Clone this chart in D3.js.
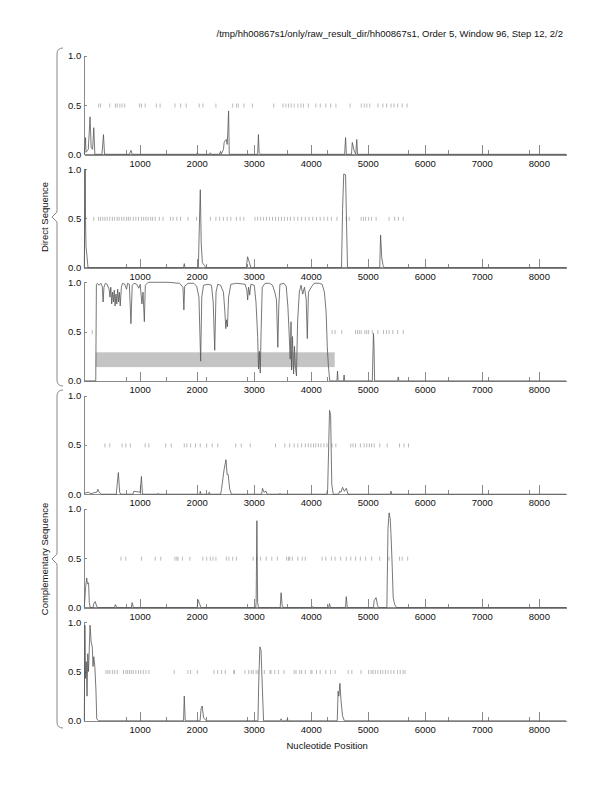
<!DOCTYPE html>
<html lang="en">
<head>
<meta charset="utf-8">
<title>Coding potential</title>
<script src="https://d3js.org/d3.v7.min.js"></script>
<style>
  body { margin: 0; background: #fff; }
  text { font-family: "Liberation Sans", Arial, Helvetica, sans-serif; fill: #111; }
  .axis path, .axis line { stroke: #8a8a8a; fill: none; shape-rendering: crispEdges; }
  .axis text { font-size: 9.5px; }
</style>
</head>
<body>
<script>
// --- data ---
var titleText = "/tmp/hh00867s1/only/raw_result_dir/hh00867s1, Order 5, Window 96, Step 12, 2/2";
var xDomain = [30, 8476];
var majorTicks = [1000, 2000, 3000, 4000, 5000, 6000, 7000, 8000];
var minorTicks = [765, 1472, 2178, 2885, 3592, 4298, 5005, 5712, 6418, 7125, 7832];
var yTicks = [0, 0.5, 1.0];
var groupLabels = ["Direct Sequence", "Complementary Sequence"];

// panel 3 shaded region [start, end, low, high]
var region3 = [230, 4420, 0.14, 0.29];

var curve1 = [[30,0],[52,0.17],[60,0.02],[100,0.05],[131,0.38],[150,0.07],[175,0.05],[196,0.27],[215,0],[340,0],[366,0.20],[385,0],
  [820,0],[849,0.04],[870,0],[2000,0],[2012,0.015],[2030,0],[2230,0],[2240,0.015],[2255,0],[2400,0],[2417,0.03],[2430,0],
  [2470,0.05],[2482,0.12],[2500,0.14],[2521,0.15],[2535,0.1],[2547,0.24],[2560,0.44],[2572,0],[3070,0],[3083,0.20],[3095,0.02],[3120,0],
  [4595,0],[4611,0.17],[4625,0],[4715,0],[4729,0.12],[4760,0.04],[4790,0],[4807,0.15],[4822,0],[8476,0]];

var curve2 = [[30,0],[45,1.0],[52,0.48],[60,0.21],[75,0.13],[95,0],[1770,0],[1783,0.04],[1795,0],[2030,0],[2044,0.35],[2064,0.79],
  [2080,0.25],[2100,0.05],[2140,0.02],[2160,0],[2870,0],[2893,0.11],[2925,0.05],[2950,0],[4540,0],[4559,0.6],[4579,0.95],[4611,0.94],
  [4630,0.4],[4645,0],[5210,0],[5225,0.33],[5245,0.1],[5270,0.02],[5290,0],[8476,0]];

var curve3 = [[30,0],[231,0],[242,0.98],[260,0.99],[290,0.97],[320,0.99],[345,0.96],[360,0.80],[375,0.95],[400,0.99],[430,0.98],
  [465,0.93],[480,0.85],[495,0.95],[510,0.78],[525,0.9],[540,0.8],[555,0.92],[570,0.76],[585,0.88],[600,0.78],[615,0.93],[630,0.8],
  [645,0.9],[660,0.76],[680,0.95],[700,0.99],[740,0.98],[770,0.93],[790,0.99],[820,0.98],[848,0.58],[870,0.97],[900,0.99],[950,0.98],
  [985,0.94],[1010,0.98],[1040,0.78],[1060,0.9],[1083,0.60],[1100,0.97],[1150,1.0],[1300,1.0],[1500,1.0],[1700,0.99],[1760,0.95],
  [1776,0.72],[1790,0.96],[1850,0.99],[1950,0.99],[2000,0.96],[2040,0.85],[2070,0.20],[2090,0.85],[2120,0.97],[2200,0.98],[2260,0.97],
  [2290,0.8],[2317,0.31],[2340,0.9],[2370,0.98],[2420,0.97],[2470,0.9],[2495,0.7],[2511,0.53],[2525,0.62],[2540,0.55],[2560,0.85],
  [2600,0.98],[2700,0.99],[2850,0.98],[2880,0.92],[2894,0.82],[2910,0.95],[2930,0.87],[2950,0.98],[3010,0.97],[3040,0.8],[3070,0.45],
  [3085,0.12],[3100,0.3],[3115,0.08],[3130,0.5],[3150,0.95],[3200,0.99],[3280,0.99],[3330,0.97],[3370,0.90],[3400,0.82],[3423,0.34],
  [3440,0.75],[3460,0.98],[3530,0.99],[3570,0.96],[3600,0.75],[3620,0.5],[3640,0.22],[3655,0.6],[3665,0.11],[3680,0.45],[3700,0.07],
  [3715,0.35],[3730,0.15],[3750,0.05],[3770,0.6],[3800,0.9],[3830,0.97],[3860,0.88],[3890,0.95],[3920,0.83],[3940,0.43],[3960,0.9],
  [3990,0.93],[4020,0.96],[4060,0.99],[4150,0.99],[4200,0.98],[4240,0.9],[4270,0.7],[4290,0.35],[4310,0.15],[4334,0],[4460,0],
  [4470,0.1],[4480,0],[4575,0],[4585,0.06],[4595,0],[5080,0],[5090,0.25],[5100,0.48],[5110,0.35],[5120,0],[5525,0],[5535,0.04],
  [5545,0],[8476,0]];

var curve4 = [[30,0.01],[100,0.02],[150,0.005],[200,0.015],[250,0.02],[268,0.05],[290,0.02],[330,0],[590,0],[607,0.1],[627,0.22],
  [650,0.02],[670,0],[880,0],[900,0.03],[960,0.025],[1010,0.02],[1032,0.18],[1050,0],[1315,0],[1326,0.01],[1340,0],[2055,0],
  [2064,0.03],[2075,0],[2210,0],[2220,0.02],[2235,0],[2420,0],[2436,0.05],[2481,0.25],[2514,0.35],[2534,0.2],[2553,0.2],[2580,0.05],
  [2610,0],[3140,0],[3154,0.06],[3180,0.02],[3219,0.03],[3235,0],[3450,0],[3461,0.01],[3475,0],[4280,0],[4297,0.05],[4330,0.85],
  [4349,0.8],[4369,0.1],[4395,0],[4490,0],[4506,0.03],[4530,0.02],[4558,0.07],[4590,0.03],[4623,0.06],[4655,0],[5395,0],[5407,0.03],
  [5420,0],[8476,0]];

var curve5 = [[30,0],[52,0.2],[72,0.3],[85,0.24],[105,0.25],[118,0.05],[135,0],[185,0],[196,0.04],[222,0.06],[248,0.01],[270,0],
  [560,0],[575,0.03],[600,0],[855,0],[869,0.05],[890,0],[2010,0],[2024,0.08],[2050,0.04],[2075,0],[3035,0],[3043,0.05],[3056,0.88],
  [3069,0.05],[3085,0],[3465,0],[3480,0.15],[3500,0.02],[3520,0],[4025,0],[4036,0.01],[4050,0],[4315,0],[4329,0.04],[4345,0],
  [4610,0],[4623,0.11],[4642,0],[5100,0],[5113,0.07],[5146,0.1],[5172,0.02],[5190,0],[5335,0],[5355,0.8],[5374,0.96],[5394,0.9],
  [5407,0.75],[5427,0.45],[5446,0.1],[5472,0.03],[5505,0],[8476,0]];

var curve6 = [[30,0],[40,0.97],[52,0.43],[65,0.6],[78,0.25],[91,0.68],[104,0.5],[131,0.97],[150,0.8],[170,0.75],[183,0.55],
  [196,0.65],[215,0.55],[235,0.3],[248,0.02],[280,0],[1770,0],[1783,0.25],[1800,0],[2060,0],[2077,0.12],[2096,0.15],[2122,0.03],
  [2170,0],[3075,0],[3089,0.4],[3108,0.75],[3128,0.72],[3154,0.3],[3173,0],[3470,0],[3480,0.02],[3495,0],[3580,0],[3591,0.02],
  [3605,0],[4465,0],[4480,0.3],[4493,0.25],[4512,0.38],[4532,0.2],[4558,0.05],[4590,0],[8476,0]];

// stop codon marks (drawn at the 0.5 level)
var stops1 = [281,314,477,575,607,653,692,738,999,1032,1097,1293,1359,1620,1718,1816,2044,2110,2338,2632,2698,2730,2828,2978,
  3351,3514,3566,3612,3658,3710,3775,3828,3874,3958,4089,4167,4265,4350,4442,4690,4886,4938,4984,5036,5180,5265,5330,5408,5460,5526,5604,5689];
var stops2 = [196,281,313,353,392,431,477,522,562,607,640,686,725,771,803,836,888,934,980,1032,1071,1110,1149,1195,1228,1273,1345,1411,
  1541,1587,1652,1717,1848,1998,2240,2338,2403,2468,2534,2599,2697,2762,2827,3023,3069,3121,3174,3226,3278,3330,3383,3435,3487,3539,
  3591,3644,3709,3774,3840,3905,3970,4036,4101,4166,4232,4297,4362,4460,4623,4675,4884,4924,4963,5015,5067,5146,5374,5472,5537,5622];
var stops3 = [170,4375,4427,4545,4786,4819,4852,4884,4950,4982,5015,5080,5178,5276,5328,5374,5439,5524,5622];
var stops4 = [392,477,692,758,836,1097,1162,1456,1554,1783,1828,1894,1979,2063,2174,2272,2370,2684,2782,2939,3383,3546,3631,3709,3774,
  3840,3905,3957,4003,4049,4088,4134,4179,4232,4284,4375,4440,4702,4741,4786,4871,4937,4982,5028,5067,5113,5211,5341,5557,5635,5714];
var stops5 = [673,758,1032,1273,1371,1620,1652,1672,1750,1881,2109,2175,2240,2286,2338,2521,2566,2632,2697,2991,3056,3121,3219,3317,
  3415,3578,3611,3631,3677,3775,3853,3905,4199,4264,4362,4427,4525,4623,4702,4786,4871,4963,5067,5211,5374,5557,5603,5700];
var stops6 = [411,444,477,522,562,607,718,758,790,823,855,888,934,980,1019,1064,1110,1162,1606,1848,1894,2011,2305,2370,2436,2501,
  2651,2664,2847,2912,2958,2991,3043,3076,3187,3285,3305,3370,3435,3533,3709,3742,3807,3840,3905,4003,4023,4101,4166,4264,4349,4427,
  4656,4721,4884,5015,5061,5093,5133,5178,5224,5263,5309,5355,5407,5459,5524,5570,5622,5655];

var curves = [curve1, curve2, curve3, curve4, curve5, curve6];
var stops = [stops1, stops2, stops3, stops4, stops5, stops6];

// --- layout ---
var W = 612, H = 792;
var plotLeft = 84.3, plotRight = 566;
var firstTop = 55.7, panelStep = 113.3, panelH = 98.6;

var svg = d3.select("body").append("svg").attr("width", W).attr("height", H);

var x = d3.scaleLinear().domain(xDomain).range([plotLeft, plotRight]);
var line = d3.line().x(function(d) { return x(d[0]); });

svg.append("text")
  .attr("x", 563).attr("y", 37)
  .attr("text-anchor", "end")
  .style("font-size", "9.5px")
  .text(titleText);

for (var i = 0; i < 6; i++) {
  var panelTop = firstTop + i * panelStep;
  var y = d3.scaleLinear().domain([0, 1]).range([panelTop + panelH, panelTop]);
  var g = svg.append("g");

  if (i == 2) {
    g.append("rect")
      .attr("x", x(region3[0]))
      .attr("width", x(region3[1]) - x(region3[0]))
      .attr("y", y(region3[3]))
      .attr("height", y(region3[2]) - y(region3[3]))
      .attr("fill", "#c4c4c4");
  }

  // stop marks
  g.selectAll(".stop")
    .data(stops[i])
    .enter().append("line")
    .attr("x1", function(d) { return x(d); })
    .attr("x2", function(d) { return x(d); })
    .attr("y1", y(0.5) - 1.5)
    .attr("y2", y(0.5) + 2.5)
    .attr("stroke", "#a8a8a8")
    .attr("stroke-width", 0.8);

  // x axis with inward ticks
  var xAxis = d3.axisBottom(x).tickValues(majorTicks).tickSize(-9).tickSizeOuter(0).tickPadding(5.5).tickFormat(d3.format("d"));
  var gx = g.append("g").attr("class", "axis")
    .attr("transform", "translate(0," + (panelTop + panelH) + ")")
    .call(xAxis);
  gx.select(".domain").attr("stroke-width", 1.5);

  gx.selectAll(".minor")
    .data(minorTicks)
    .enter().append("line")
    .attr("class", "minor")
    .attr("x1", function(d) { return x(d); })
    .attr("x2", function(d) { return x(d); })
    .attr("y1", 0).attr("y2", -4);

  var yAxis = d3.axisLeft(y).tickValues(yTicks).tickSize(-3).tickSizeOuter(0).tickPadding(3).tickFormat(d3.format(".1f"));
  g.append("g").attr("class", "axis")
    .attr("transform", "translate(" + plotLeft + ",0)")
    .call(yAxis);

  line.y(function(d) { return y(d[1]); });
  g.append("path")
    .datum(curves[i])
    .attr("d", line)
    .attr("fill", "none")
    .attr("stroke", "#555")
    .attr("stroke-width", 0.8);
}

// braces and group labels
function brace(y0, y1) {
  var ym = (y0 + y1) / 2, xl = 57, xr = 63, xp = 52;
  return "M" + xr + "," + y0 +
    " Q" + xl + "," + y0 + " " + xl + "," + (y0 + 6) +
    " L" + xl + "," + (ym - 5) +
    " L" + xp + "," + ym +
    " L" + xl + "," + (ym + 5) +
    " L" + xl + "," + (y1 - 6) +
    " Q" + xl + "," + y1 + " " + xr + "," + y1;
}
var braceSpans = [[48, 386], [390, 728]];
braceSpans.forEach(function(s, k) {
  svg.append("path")
    .attr("d", brace(s[0], s[1]))
    .attr("fill", "none")
    .attr("stroke", "#8a8a8a")
    .attr("stroke-width", 1);
  var cy = (s[0] + s[1]) / 2;
  svg.append("text")
    .attr("transform", "translate(48," + cy + ") rotate(-90)")
    .attr("text-anchor", "middle")
    .style("font-size", "9.5px")
    .text(groupLabels[k]);
});

svg.append("text")
  .attr("x", (plotLeft + plotRight) / 2 + 2)
  .attr("y", 749)
  .attr("text-anchor", "middle")
  .style("font-size", "9.5px")
  .text("Nucleotide Position");
</script>
</body>
</html>
